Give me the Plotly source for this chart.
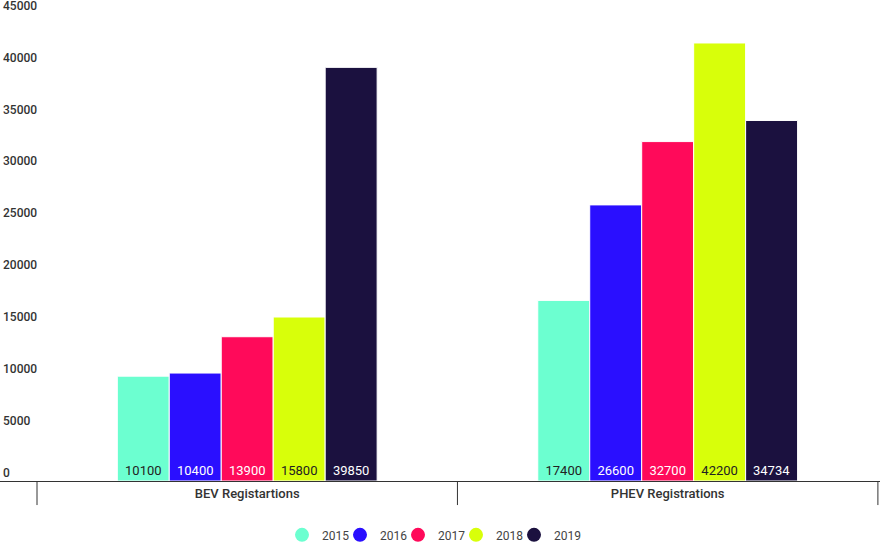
import plotly.graph_objects as go

categories = ["BEV Registartions", "PHEV Registrations"]
years = ["2015", "2016", "2017", "2018", "2019"]
values = {
    "2015": [10100, 17400],
    "2016": [10400, 26600],
    "2017": [13900, 32700],
    "2018": [15800, 42200],
    "2019": [39850, 34734],
}
colors = ["#6cffd0", "#2a0fff", "#ff0a5a", "#d8ff0a", "#1b113f"]
text_colors = ["#222222", "#ffffff", "#ffffff", "#222222", "#ffffff"]
y_ticks = [0, 5000, 10000, 15000, 20000, 25000, 30000, 35000, 40000, 45000]

fig = go.Figure()
for yr, c, tc in zip(years, colors, text_colors):
    fig.add_trace(go.Bar(
        x=categories, y=values[yr], name=yr,
        marker=dict(color=c, line=dict(color="white", width=1)),
        text=[str(v) for v in values[yr]],
        textposition="inside", insidetextanchor="start",
        textfont=dict(family="Roboto", size=13, color=tc),
        showlegend=False, hoverinfo="x+y",
    ))
    fig.add_trace(go.Scatter(
        x=[None], y=[None], mode="markers", name=yr,
        marker=dict(symbol="circle", size=14, color=c),
        showlegend=True,
    ))

# blank spacer legend entry so the last label is not clipped
fig.add_trace(go.Scatter(
    x=[None], y=[None], mode="markers", name=" ",
    marker=dict(symbol="circle", size=14, color="rgba(0,0,0,0)"),
    showlegend=True, hoverinfo="skip",
))

# category divider ticks
for b in [-0.5, 0.5, 1.5]:
    fig.add_shape(type="line", xref="x", yref="paper", x0=b, x1=b, y0=0, y1=-0.05,
                  line=dict(color="#333333", width=1))

fig.update_layout(
    width=880, height=554,
    margin=dict(l=0, r=0, t=0, b=73),
    paper_bgcolor="white", plot_bgcolor="white",
    barmode="group", bargap=0.382, bargroupgap=0.0,
    font=dict(family="Roboto", color="#333333"),
    legend=dict(orientation="h", x=0.5182, xanchor="center", y=-0.112, yanchor="middle",
                entrywidth=13,
                font=dict(family="Roboto", size=12, color="#444444")),
    showlegend=True,
)
fig.update_xaxes(
    range=[-0.588, 1.505], showline=True, linecolor="#333333", linewidth=1,
    ticks="", showgrid=False, zeroline=False,
    tickfont=dict(family="Roboto", size=13, color="#333333", weight=500),
)
fig.update_yaxes(
    range=[0, 46340], tickvals=y_ticks, ticktext=[str(v) for v in y_ticks],
    ticklabelposition="inside top", ticklabeloverflow="allow",
    showgrid=False, zeroline=False, showline=False,
    tickfont=dict(family="Roboto", size=12, color="#333333", weight=500),
)

fig.write_html("out.html", config={"displayModeBar": False},
               post_script="document.body.style.margin='0';")
